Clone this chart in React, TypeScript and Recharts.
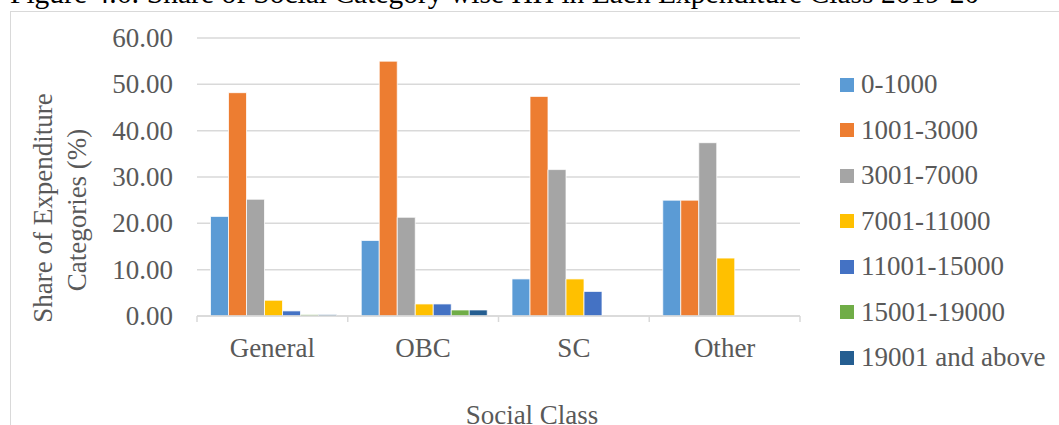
import { BarChart, Bar, XAxis, YAxis, CartesianGrid, Legend } from 'recharts';

const categories = ['General', 'OBC', 'SC', 'Other'];

const seriesNames = [
  '0-1000',
  '1001-3000',
  '3001-7000',
  '7001-11000',
  '11001-15000',
  '15001-19000',
  '19001 and above',
];

const seriesColors = ['#5B9BD5', '#ED7D31', '#A5A5A5', '#FFC000', '#4472C4', '#70AD47', '#255E91'];

// share (%) per social class, one array per expenditure class
const s0to1000 = [21.5, 16.3, 8.0, 25.0];
const s1001to3000 = [48.2, 55.0, 47.4, 25.0];
const s3001to7000 = [25.2, 21.3, 31.6, 37.4];
const s7001to11000 = [3.4, 2.6, 8.0, 12.5];
const s11001to15000 = [1.1, 2.6, 5.3, 0];
const s15001to19000 = [0.3, 1.3, 0, 0];
const s19001above = [0.3, 1.3, 0, 0];

const seriesValues = [s0to1000, s1001to3000, s3001to7000, s7001to11000, s11001to15000, s15001to19000, s19001above];

const yTicks = [0, 10, 20, 30, 40, 50, 60];

const data = categories.map((name, i) => {
  const row: Record<string, string | number> = { name };
  seriesNames.forEach((s, j) => {
    row[s] = seriesValues[j][i];
  });
  return row;
});

const FONT = '"Liberation Serif", "Times New Roman", serif';
const TEXT = '#595959';
const GRID = '#d9d9d9';

const CategoryTick = (props: any) => {
  const { x, y, payload, width, visibleTicksCount } = props;
  const band = width / visibleTicksCount;
  const left = x - band / 2;
  return (
    <g>
      <line x1={left} x2={left} y1={y} y2={y + 6} stroke={GRID} strokeWidth={1.5} />
      {payload.index === visibleTicksCount - 1 && (
        <line x1={left + band} x2={left + band} y1={y} y2={y + 6} stroke={GRID} strokeWidth={1.5} />
      )}
      <text x={x} y={y + 41} textAnchor="middle" fill={TEXT} fontSize={27} fontFamily={FONT}>
        {payload.value}
      </text>
    </g>
  );
};

const ValueTick = (props: any) => {
  const { x, y, payload } = props;
  return (
    <text x={x} y={y} dy={9} textAnchor="end" fill={TEXT} fontSize={27} fontFamily={FONT}>
      {Number(payload.value).toFixed(2)}
    </text>
  );
};

const YTitle = () => (
  <g fill={TEXT} fontSize={27} fontFamily={FONT} textAnchor="middle">
    <text transform="translate(52, 208) rotate(-90)">Share of Expenditure</text>
    <text transform="translate(86, 210) rotate(-90)">Categories (%)</text>
  </g>
);

const XTitle = () => (
  <text x={532} y={424} textAnchor="middle" fill={TEXT} fontSize={27} fontFamily={FONT}>
    Social Class
  </text>
);

const LegendList = (props: any) => {
  const payload = [...(props.payload || [])].sort(
    (a: any, b: any) => seriesNames.indexOf(a.value) - seriesNames.indexOf(b.value)
  );
  return (
    <div style={{ fontFamily: FONT, fontSize: 27, color: TEXT }}>
      {payload.map((entry: any) => (
        <div key={entry.value} style={{ height: 45.5, display: 'flex', alignItems: 'center', whiteSpace: 'nowrap' }}>
          <span style={{ width: 14, height: 14, background: entry.color, marginRight: 7, display: 'inline-block' }} />
          <span>{entry.value}</span>
        </div>
      ))}
    </div>
  );
};

export default function App() {
  return (
    <div style={{ position: 'relative', width: 1059, height: 425, overflow: 'hidden', background: '#fff' }}>
      <style>{'body{margin:0}'}</style>
      <div
        style={{
          position: 'absolute',
          left: 10,
          top: -20.7,
          fontFamily: FONT,
          fontSize: 29.5,
          lineHeight: '29.5px',
          color: '#000',
          whiteSpace: 'nowrap',
        }}
      >
        Figure 4.6: Share of Social Category wise HH in Each Expenditure Class 2019-20
      </div>
      <div
        style={{
          position: 'absolute',
          left: 10,
          top: 11,
          width: 1200,
          height: 600,
          border: `1px solid ${GRID}`,
        }}
      />
      <div style={{ position: 'absolute', left: 0, top: 0 }}>
        <BarChart
          width={1059}
          height={425}
          data={data}
          margin={{ top: 38, right: 259, bottom: 69, left: 0 }}
          barCategoryGap={13.5}
          barGap={0}
        >
          <CartesianGrid vertical={false} stroke={GRID} strokeWidth={1.5} />
          <XAxis
            dataKey="name"
            height={40}
            axisLine={{ stroke: GRID, strokeWidth: 1.5 }}
            tickLine={false}
            tickSize={0}
            tickMargin={0}
            tick={<CategoryTick />}
            interval={0}
            label={<XTitle />}
          />
          <YAxis
            width={197}
            domain={[0, 60]}
            ticks={yTicks}
            axisLine={false}
            tickLine={false}
            tickSize={0}
            tickMargin={24}
            tick={<ValueTick />}
            label={<YTitle />}
          />
          <Legend
            layout="vertical"
            align="center"
            verticalAlign="middle"
            wrapperStyle={{ left: 840, top: 62, width: 219 }}
            content={<LegendList />}
          />
          {seriesNames.map((s, j) => (
            <Bar
              key={s}
              dataKey={s}
              name={s}
              fill={seriesColors[j]}
              stroke="#fff"
              strokeWidth={0.75}
              isAnimationActive={false}
            />
          ))}
        </BarChart>
      </div>
    </div>
  );
}
